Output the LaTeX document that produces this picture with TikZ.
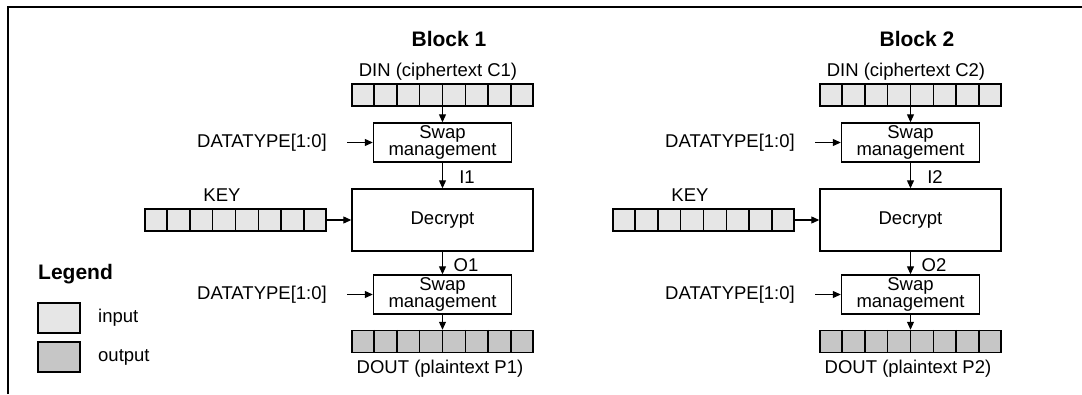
\documentclass[tikz,border=0pt]{standalone}
\usepackage{fontspec}
\setmainfont{Liberation Sans}
\usetikzlibrary{arrows.meta,calc}
\definecolor{inreg}{HTML}{E6E6E6}
\definecolor{outreg}{HTML}{C6C6C6}
\newcommand\regcells[1]{%
  \foreach \k in {1,...,7}{%
    \draw[line width=1.5bp] ($(#1.north west)!\k/8!(#1.north east)$) -- ($(#1.south west)!\k/8!(#1.south east)$);}}
\begin{document}
\begin{tikzpicture}[x=1bp,y=-1bp,
  txt/.style={font=\fontsize{18.5bp}{22bp}\selectfont, inner sep=0pt},
  ttl/.style={font=\fontsize{21bp}{24bp}\selectfont\bfseries, inner sep=0pt},
  reg/.style={draw, line width=1.5bp, minimum width=181bp, minimum height=22bp, inner sep=0pt},
  box/.style={draw, line width=1.4bp, inner sep=0pt, align=center, font=\fontsize{18.5bp}{13bp}\selectfont},
  swapbox/.style={box, minimum width=138bp, minimum height=39bp},
  arr/.style={line width=1.1bp, -{Triangle[length=8bp,width=7bp]}},
  legbox/.style={draw, line width=1.1bp, minimum width=42bp, minimum height=30bp, inner sep=0pt}
]
\useasboundingbox (0,0) rectangle (1082,394);
\draw[line width=2.6bp] (8,394) -- (8,7) -- (1082,7);

\foreach \o/\n in {0/1,468/2}{
  \node[ttl] (title\n) at (449+\o,39) {Block \n};
  \node[txt] (dinl\n) at (438+\o,72) {DIN (ciphertext C\n)};
  \node[reg, fill=inreg] (din\n) at (442.5+\o,95) {};
  \regcells{din\n}
  \node[swapbox] (swa\n) at (442.5+\o,142.5) {Swap\\management};
  \node[txt] (dtla\n) at (262+\o,143) {DATATYPE[1:0]};
  \coordinate (dtsa\n) at (347+\o,142.5);
  \draw[arr] (din\n.south) -- (swa\n.north);
  \draw[arr] (dtsa\n) -- (swa\n.west);
  \node[box, minimum width=181bp, minimum height=62bp, font=\fontsize{18.5bp}{22bp}\selectfont] (dec\n) at (442.5+\o,220) {Decrypt};
  \draw[arr] (swa\n.south) -- (dec\n.north);
  \node[txt] (il\n) at (467+\o,177) {I\n};
  \node[txt] (keyl\n) at (222+\o,195) {KEY};
  \node[reg, fill=inreg] (key\n) at (235.5+\o,220) {};
  \regcells{key\n}
  \draw[arr] (key\n.east) -- (dec\n.west);
  \node[txt] (ol\n) at (466+\o,265) {O\n};
  \node[swapbox] (swb\n) at (442.5+\o,294.5) {Swap\\management};
  \draw[arr] (dec\n.south) -- (swb\n.north);
  \node[txt] (dtlb\n) at (262+\o,295) {DATATYPE[1:0]};
  \coordinate (dtsb\n) at (347+\o,294.5);
  \draw[arr] (dtsb\n) -- (swb\n.west);
  \node[reg, fill=outreg] (dout\n) at (442.5+\o,341.5) {};
  \regcells{dout\n}
  \draw[arr] (swb\n.south) -- (dout\n.north);
  \node[txt] (doutl\n) at (440+\o,369) {DOUT (plaintext P\n)};
}

\node[ttl, anchor=west] (leg) at (38,274) {Legend};
\node[legbox, fill=inreg] (lin) at (59,318) {};
\node[txt, anchor=west] (linl) at (98,318) {input};
\node[legbox, fill=outreg] (lout) at (59,357) {};
\node[txt, anchor=west] (loutl) at (98,357) {output};
\end{tikzpicture}
\end{document}
